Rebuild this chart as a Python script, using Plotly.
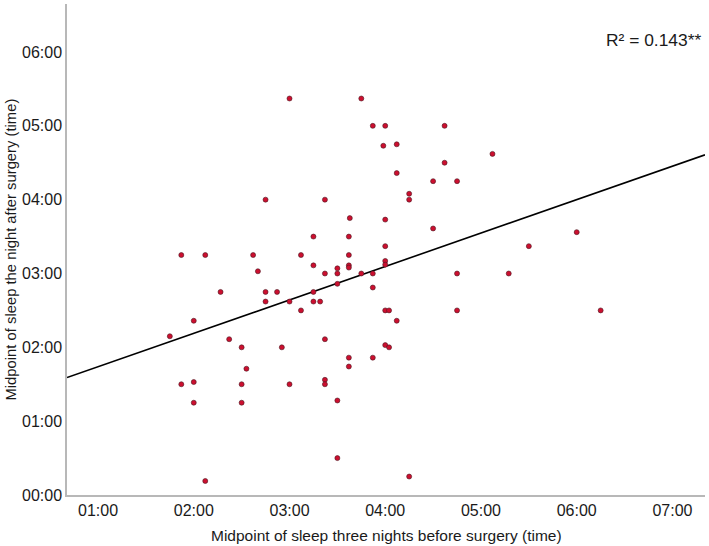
import numpy as np
import plotly.graph_objects as go

# Midpoint of sleep three nights before surgery (decimal hours)
before_surgery = [
    1.87, 2.12, 2.62, 3.12, 3.62, 2.75, 3.37, 3.00, 2.67, 2.28,
    2.75, 2.87, 3.25, 2.75, 3.00, 3.25, 3.32, 3.12, 2.00, 1.75,
    2.37, 3.37, 2.50, 2.92, 3.62, 3.62, 2.55, 1.87, 2.00, 2.50,
    3.00, 3.37, 3.37, 2.00, 2.50, 3.50, 3.50, 2.12, 3.25, 3.62,
    3.63, 4.00, 4.00, 3.25, 3.62, 3.62, 4.00, 4.00, 3.50, 3.37,
    3.50, 3.75, 3.87, 3.50, 3.87, 4.00, 4.04, 4.12, 3.75, 3.87,
    4.00, 4.62, 3.98, 4.12, 5.12, 4.62, 4.12, 4.25, 4.25, 4.50,
    4.75, 4.50, 5.50, 4.75, 5.29, 4.75, 6.00, 6.25, 4.00, 4.04,
    3.87, 4.25,
]
# Midpoint of sleep the night after surgery (decimal hours)
after_surgery = [
    3.25, 3.25, 3.25, 3.25, 3.25, 4.00, 4.00, 5.37, 3.03, 2.75,
    2.75, 2.75, 2.75, 2.62, 2.62, 2.62, 2.62, 2.50, 2.36, 2.15,
    2.11, 2.11, 2.00, 2.00, 1.86, 1.74, 1.71, 1.50, 1.53, 1.50,
    1.50, 1.56, 1.50, 1.25, 1.25, 1.28, 0.50, 0.19, 3.50, 3.50,
    3.75, 3.73, 3.37, 3.11, 3.11, 3.08, 3.17, 3.12, 3.07, 3.00,
    3.00, 3.00, 3.00, 2.86, 2.81, 2.50, 2.50, 2.36, 5.37, 5.00,
    5.00, 5.00, 4.73, 4.75, 4.62, 4.50, 4.36, 4.08, 4.00, 4.25,
    4.25, 3.61, 3.37, 3.00, 3.00, 2.50, 3.56, 2.50, 2.03, 2.00,
    1.86, 0.25,
]

# Fit line (linear regression, R² = 0.143)
fit_intercept = 1.284
fit_slope = 0.4527
r_squared_label = "R² = 0.143**"

tick_values = [1, 2, 3, 4, 5, 6, 7]
x_tick_labels = ["01:00", "02:00", "03:00", "04:00", "05:00", "06:00", "07:00"]
y_tick_values = [0, 1, 2, 3, 4, 5, 6]
y_tick_labels = ["00:00", "01:00", "02:00", "03:00", "04:00", "05:00", "06:00"]

x_range = [0.676, 7.34]
y_range = [0, 6.65]

line_x = np.array(x_range)
line_y = fit_intercept + fit_slope * line_x

font_family = "Liberation Sans, Arial, sans-serif"
text_color = "#1a1a1a"

fig = go.Figure()
fig.add_trace(go.Scatter(
    x=line_x, y=line_y, mode="lines",
    line=dict(color="black", width=1.6),
    hoverinfo="skip", showlegend=False,
))
fig.add_trace(go.Scatter(
    x=before_surgery, y=after_surgery, mode="markers",
    marker=dict(size=5, color="#cc0f2f", line=dict(color="#4a1a22", width=0.6)),
    showlegend=False,
))

fig.add_annotation(
    text=r_squared_label, xref="paper", yref="paper", x=1, y=0.927,
    xanchor="right", yanchor="middle", xshift=-2, showarrow=False,
    font=dict(family=font_family, size=17.4, color=text_color),
)
fig.add_annotation(
    text="Midpoint of sleep three nights before surgery (time)",
    xref="paper", yref="paper", x=0.5, y=0, yshift=-40,
    xanchor="center", yanchor="middle", showarrow=False,
    font=dict(family=font_family, size=15.5, color=text_color),
)
fig.add_annotation(
    text="Midpoint of sleep the night after surgery (time)",
    xref="paper", yref="paper", x=0, y=0.5, xshift=-57, textangle=-90,
    xanchor="center", yanchor="middle", showarrow=False,
    font=dict(family=font_family, size=14.8, color=text_color),
)

fig.update_layout(
    width=709, height=546,
    margin=dict(l=67, r=4, t=4, b=51, autoexpand=False),
    paper_bgcolor="white", plot_bgcolor="white",
    font=dict(family=font_family, color=text_color),
)
fig.update_xaxes(
    range=x_range, tickvals=tick_values, ticktext=x_tick_labels, automargin=False,
    showgrid=False, zeroline=False, showline=True, linecolor="#b8b8b8", linewidth=1.5,
    ticks="", tickfont=dict(size=16, family=font_family, color=text_color),
)
fig.update_yaxes(
    range=y_range, tickvals=y_tick_values, ticktext=y_tick_labels, automargin=False,
    showgrid=False, zeroline=False, showline=True, linecolor="#b8b8b8", linewidth=1.5,
    ticks="", tickfont=dict(size=16, family=font_family, color=text_color),
)

fig.write_html(
    "out.html",
    config={"displayModeBar": False},
    post_script="document.body.style.margin='0';document.body.style.overflow='hidden';",
)
